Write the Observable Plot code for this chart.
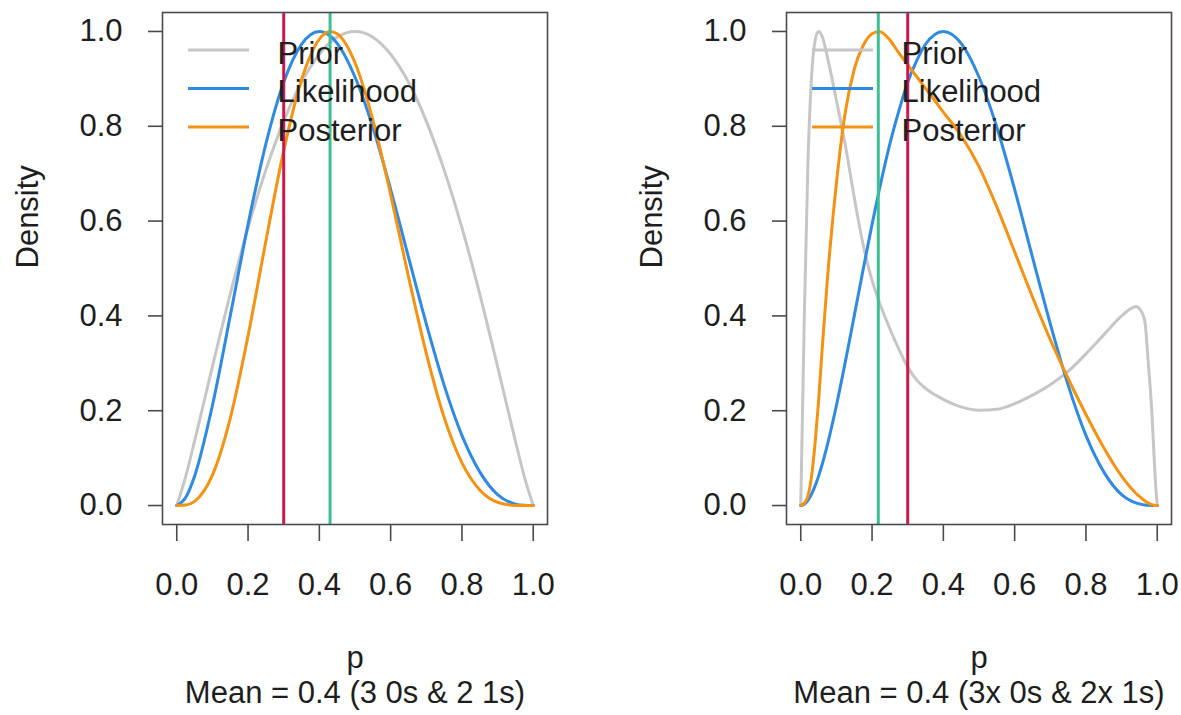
<!DOCTYPE html>
<html>
<head>
<meta charset="utf-8">
<script src="https://cdn.jsdelivr.net/npm/d3@7"></script>
<script src="https://cdn.jsdelivr.net/npm/@observablehq/plot@0.6"></script>
<style>
  html, body { margin: 0; padding: 0; background: #ffffff; }
  #wrap { display: flex; width: 1181px; height: 715px; overflow: hidden; }
</style>
</head>
<body>
<div id="wrap"></div>
<script>
// ---------- data ----------
const xTicks = [0, 0.2, 0.4, 0.6, 0.8, 1.0];
const yTicks = [0, 0.2, 0.4, 0.6, 0.8, 1.0];
const seriesNames = ["Prior", "Likelihood", "Posterior"];

// Left panel
const pLeft = [0, 0.025, 0.05, 0.1, 0.15, 0.2, 0.25, 0.3, 0.35, 0.4, 0.43, 0.45, 0.5, 0.55, 0.6, 0.65, 0.7, 0.75, 0.8, 0.85, 0.9, 0.95, 0.975, 1];
const priorLeft = [0, 0.061, 0.136, 0.293, 0.446, 0.586, 0.708, 0.811, 0.893, 0.952, 0.977, 0.988, 1, 0.988, 0.952, 0.893, 0.811, 0.708, 0.586, 0.446, 0.293, 0.136, 0.061, 0];
const likLeft = [0, 0.017, 0.062, 0.211, 0.400, 0.593, 0.763, 0.893, 0.973, 1, 0.991, 0.975, 0.904, 0.798, 0.667, 0.524, 0.383, 0.254, 0.148, 0.071, 0.023, 0.003, 0.0005, 0];
const postLeft = [0, 0.001, 0.0087, 0.064, 0.184, 0.358, 0.558, 0.748, 0.898, 0.984, 1, 0.995, 0.934, 0.814, 0.656, 0.483, 0.321, 0.186, 0.090, 0.033, 0.007, 0.0003, 0, 0];
const redLeft = 0.30;
const greenLeft = 0.43;
const captionLeft = "Mean = 0.4 (3 0s & 2 1s)";

// Right panel
const pRight = [0, 0.01, 0.02, 0.03, 0.04, 0.05, 0.06, 0.075, 0.1, 0.125, 0.15, 0.175, 0.2, 0.22, 0.25, 0.275, 0.3, 0.325, 0.35, 0.4, 0.45, 0.5, 0.55, 0.6, 0.65, 0.7, 0.75, 0.8, 0.85, 0.9, 0.925, 0.94, 0.955, 0.965, 0.975, 0.985, 0.99, 0.995, 1];
const priorRight = [0, 0.40, 0.72, 0.90, 0.98, 1.00, 0.99, 0.945, 0.855, 0.76, 0.65, 0.55, 0.475, 0.43, 0.373, 0.33, 0.292, 0.265, 0.247, 0.224, 0.208, 0.201, 0.203, 0.215, 0.233, 0.255, 0.283, 0.32, 0.36, 0.40, 0.415, 0.42, 0.41, 0.39, 0.30, 0.195, 0.12, 0.05, 0];
const likRight = [0, 0.0028, 0.0109, 0.0238, 0.041, 0.062, 0.0865, 0.129, 0.211, 0.303, 0.400, 0.498, 0.593, 0.665, 0.763, 0.832, 0.893, 0.938, 0.973, 1, 0.975, 0.904, 0.798, 0.667, 0.524, 0.383, 0.254, 0.148, 0.071, 0.023, 0.0104, 0.0055, 0.0024, 0.0012, 0.0005, 0.0001, 0, 0, 0];
const postRight = [0, 0.005, 0.02, 0.06, 0.13, 0.22, 0.33, 0.48, 0.68, 0.83, 0.92, 0.97, 0.995, 1.0, 0.982, 0.955, 0.93, 0.905, 0.88, 0.83, 0.78, 0.715, 0.63, 0.535, 0.44, 0.35, 0.268, 0.192, 0.122, 0.062, 0.038, 0.026, 0.016, 0.010, 0.005, 0.002, 0.001, 0, 0];
const redRight = 0.30;
const greenRight = 0.2175;
const captionRight = "Mean = 0.4 (3x 0s & 2x 1s)";

// ---------- styling ----------
const colors = {Prior: "#c6c6c6", Likelihood: "#2f8ae4", Posterior: "#f59212"};
const redColor = "#cc1a4f";
const greenColor = "#3dbf94";
const inkColor = "#1e1e1e";
const frameColor = "#4a4a4a";
const FONT = "'Liberation Sans', Arial, Helvetica, sans-serif";
const FS = 31;

function toRows(ps, vals) { return ps.map((p, i) => ({p, v: vals[i]})); }

function panel({width, marginLeft, marginRight, ps, prior, lik, post, red, green, caption}) {
  const marginTop = 12, marginBottom = 715 - 524;
  const legendMarks = seriesNames.map((name, i) =>
    Plot.text([name], {frameAnchor: "top-left", dx: 115, dy: 51 + i * 38.5, lineAnchor: "bottom", textAnchor: "start", fontSize: FS, fill: inkColor})
  );
  const legendLines = () => {
    const g = d3.create("svg:g");
    seriesNames.forEach((name, i) => {
      g.append("line")
        .attr("x1", marginLeft + 26).attr("x2", marginLeft + 87)
        .attr("y1", marginTop + 38 + i * 38.5).attr("y2", marginTop + 38 + i * 38.5)
        .attr("stroke", colors[name]).attr("stroke-width", 3);
    });
    return g.node();
  };
  return Plot.plot({
    width, height: 715,
    marginLeft, marginRight, marginTop, marginBottom,
    style: {fontFamily: FONT, fontSize: FS + "px", background: "white", color: inkColor},
    x: {domain: [-0.04, 1.04], label: null},
    y: {domain: [-0.04, 1.04], label: null},
    marks: [
      Plot.line(toRows(ps, prior), {x: "p", y: "v", stroke: colors.Prior, strokeWidth: 3, curve: "monotone-x"}),
      Plot.line(toRows(ps, lik), {x: "p", y: "v", stroke: colors.Likelihood, strokeWidth: 3, curve: "monotone-x"}),
      Plot.line(toRows(ps, post), {x: "p", y: "v", stroke: colors.Posterior, strokeWidth: 3, curve: "monotone-x"}),
      Plot.ruleX([red], {stroke: redColor, strokeWidth: 3}),
      Plot.ruleX([green], {stroke: greenColor, strokeWidth: 3}),
      Plot.frame({stroke: frameColor, strokeWidth: 1.6}),
      Plot.axisX({ticks: xTicks, tickFormat: d3.format(".1f"), tickSize: 17, tickPadding: 31, stroke: frameColor, strokeWidth: 1.6, fontSize: FS, fill: inkColor, label: null}),
      Plot.axisY({ticks: yTicks, tickFormat: d3.format(".1f"), tickSize: 14, tickPadding: 26, stroke: frameColor, strokeWidth: 1.6, fontSize: FS, fill: inkColor, label: null}),
      Plot.text(["Density"], {frameAnchor: "left", dx: -134, rotate: -90, fontSize: FS, fill: inkColor}),
      Plot.text(["p"], {frameAnchor: "bottom", dy: 143, lineAnchor: "bottom", fontSize: FS, fill: inkColor}),
      Plot.text([caption], {frameAnchor: "bottom", dy: 178, lineAnchor: "bottom", fontSize: FS, fill: inkColor}),
      legendLines,
      ...legendMarks
    ]
  });
}

const wrap = document.getElementById("wrap");
wrap.append(panel({width: 590, marginLeft: 162, marginRight: 43, ps: pLeft, prior: priorLeft, lik: likLeft, post: postLeft, red: redLeft, green: greenLeft, caption: captionLeft}));
wrap.append(panel({width: 591, marginLeft: 196, marginRight: 10, ps: pRight, prior: priorRight, lik: likRight, post: postRight, red: redRight, green: greenRight, caption: captionRight}));
</script>
</body>
</html>
